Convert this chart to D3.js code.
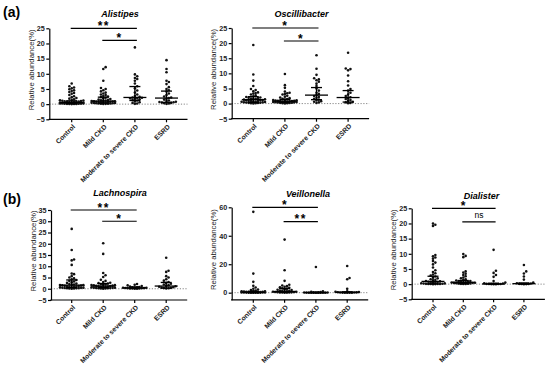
<!DOCTYPE html>
<html>
<head>
<meta charset="utf-8">
<script src="https://cdn.jsdelivr.net/npm/d3@7"></script>
<style>
  body { margin: 0; background: #fff; }
  svg { display: block; font-family: Arial, "Liberation Sans", sans-serif; }
  .axis path, .axis line { stroke: #000; stroke-width: 1.2; }
  .axis text { font-size: 7.2px; font-weight: bold; fill: #222; }
  .axis text.xlab { font-size: 6.8px; }
</style>
</head>
<body>
<div id="chart"></div>
<script>
// group names (x categories)
const groups = ["Control", "Mild CKD", "Moderate to severe CKD", "ESRD"];

// relative abundance (%) per group
const alistipes = [
  [6.8, 5.9, 5.5, 5.2, 4.9, 4.6, 4.3, 4.0, 3.7, 3.4, 3.0, 2.6, 2.3, 2.0, 1.8, 1.6, 1.4, 1.3, 1.2, 1.1, 1.0, 0.9, 0.85, 0.8, 0.75, 0.7, 0.65, 0.6, 0.55, 0.5, 0.48, 0.45, 0.42, 0.4, 0.37, 0.35, 0.32, 0.3, 0.28, 0.25, 0.22, 0.2, 0.18, 0.15, 0.12, 0.1, 0.08, 0.05, 0.03, 0.01],
  [12.2, 11.6, 7.7, 5.3, 5.0, 4.6, 4.2, 3.8, 3.5, 3.2, 3.0, 2.7, 2.5, 2.3, 2.1, 1.9, 1.7, 1.5, 1.4, 1.3, 1.2, 1.1, 1.0, 0.95, 0.9, 0.85, 0.8, 0.75, 0.7, 0.65, 0.6, 0.55, 0.5, 0.45, 0.4, 0.35, 0.3, 0.28, 0.25, 0.2, 0.15, 0.12, 0.1, 0.05],
  [18.7, 9.8, 9.2, 8.6, 8.3, 7.7, 6.8, 5.9, 5.2, 4.5, 3.8, 3.2, 2.7, 2.4, 2.2, 2.1, 2.0, 1.9, 1.8, 1.6, 1.4, 1.2, 0.9, 0.6, 0.4, 0.2, 0.1],
  [14.5, 11.6, 10.5, 7.7, 7.3, 6.6, 5.6, 5.0, 4.6, 4.2, 3.5, 3.0, 2.5, 2.2, 2.0, 1.8, 1.5, 1.2, 1.0, 0.8, 0.7, 0.6, 0.5, 0.4, 0.3, 0.2, 0.1]
];
const oscillibacter = [
  [19.4, 9.6, 7.6, 5.8, 4.8, 4.5, 4.1, 3.7, 3.5, 3.3, 3.0, 2.7, 2.4, 2.2, 2.0, 1.9, 1.8, 1.7, 1.6, 1.5, 1.4, 1.3, 1.2, 1.1, 1.0, 0.9, 0.85, 0.8, 0.7, 0.65, 0.6, 0.5, 0.45, 0.4, 0.35, 0.3, 0.25, 0.2, 0.15, 0.1, 0.05],
  [9.8, 6.1, 5.2, 4.0, 3.6, 3.4, 3.2, 3.0, 2.6, 2.3, 2.0, 1.8, 1.6, 1.5, 1.3, 1.2, 1.1, 1.0, 0.95, 0.9, 0.85, 0.8, 0.75, 0.7, 0.65, 0.6, 0.55, 0.5, 0.45, 0.4, 0.35, 0.3, 0.25, 0.2, 0.15, 0.1, 0.05],
  [16.0, 11.5, 9.5, 8.4, 8.0, 7.7, 7.2, 6.6, 5.8, 5.0, 4.3, 3.6, 3.2, 2.8, 2.5, 2.2, 1.9, 1.6, 1.3, 1.0, 0.8, 0.6, 0.4, 0.2],
  [16.8, 11.6, 11.4, 11.0, 9.3, 7.4, 6.0, 4.8, 4.3, 3.6, 3.0, 2.5, 2.1, 1.8, 1.5, 1.2, 0.9, 0.6, 0.4, 0.2, 0.1]
];
const lachnospira = [
  [26.6, 17.2, 13.0, 12.6, 10.6, 6.8, 6.5, 5.6, 5.0, 4.6, 4.2, 3.9, 3.5, 3.2, 2.9, 2.6, 2.3, 2.1, 1.9, 1.8, 1.7, 1.6, 1.5, 1.4, 1.3, 1.2, 1.1, 1.0, 0.9, 0.8, 0.7, 0.6, 0.5, 0.45, 0.4, 0.35, 0.3, 0.25, 0.2, 0.15, 0.1, 0.05],
  [20.2, 15.5, 7.0, 6.0, 5.2, 4.0, 3.5, 3.0, 2.7, 2.5, 2.3, 2.1, 1.9, 1.8, 1.7, 1.6, 1.5, 1.4, 1.3, 1.2, 1.1, 1.0, 0.9, 0.8, 0.7, 0.6, 0.5, 0.45, 0.4, 0.35, 0.3, 0.25, 0.2, 0.15, 0.1, 0.05],
  [2.1, 1.8, 1.5, 1.2, 1.0, 0.8, 0.7, 0.6, 0.5, 0.45, 0.4, 0.35, 0.3, 0.25, 0.2, 0.15, 0.1, 0.08, 0.05, 0.02],
  [13.8, 8.0, 7.5, 5.6, 5.0, 4.2, 3.6, 3.0, 2.6, 2.2, 1.9, 1.6, 1.3, 1.1, 0.9, 0.7, 0.5, 0.4, 0.3, 0.2, 0.1]
];
const veillonella = [
  [56.8, 13.4, 7.6, 4.8, 3.6, 2.8, 2.2, 1.8, 1.5, 1.2, 1.0, 0.9, 0.8, 0.7, 0.6, 0.5, 0.45, 0.4, 0.35, 0.3, 0.25, 0.2, 0.15, 0.1, 0.08, 0.05, 0.03, 0.02, 0.01, 0.01, 0.0, 0.0],
  [37.3, 15.8, 8.3, 5.6, 5.0, 4.6, 4.2, 3.8, 3.4, 3.0, 2.7, 2.4, 2.1, 1.8, 1.5, 1.3, 1.1, 0.9, 0.8, 0.7, 0.6, 0.5, 0.4, 0.3, 0.25, 0.2, 0.15, 0.1, 0.05, 0.02],
  [18.1, 1.0, 0.6, 0.4, 0.3, 0.2, 0.15, 0.1, 0.08, 0.05, 0.03, 0.02, 0.01, 0.0, 0.0, 0.0, 0.0, 0.0],
  [18.7, 10.3, 9.4, 2.7, 1.0, 0.6, 0.4, 0.3, 0.2, 0.15, 0.1, 0.05, 0.03, 0.02, 0.01, 0.0]
];
const dialister = [
  [20.0, 19.6, 19.2, 9.6, 9.2, 8.8, 8.4, 7.6, 7.1, 6.5, 5.5, 4.6, 4.0, 3.6, 3.2, 2.8, 2.5, 2.2, 1.9, 1.6, 1.4, 1.2, 1.0, 0.9, 0.8, 0.7, 0.6, 0.5, 0.4, 0.3, 0.25, 0.2, 0.15, 0.1, 0.08, 0.05, 0.03, 0.02, 0.01, 0.0],
  [9.9, 9.3, 8.9, 4.2, 3.8, 3.4, 3.0, 2.6, 2.2, 1.9, 1.6, 1.4, 1.2, 1.0, 0.9, 0.8, 0.7, 0.6, 0.55, 0.5, 0.45, 0.4, 0.35, 0.3, 0.25, 0.2, 0.15, 0.1, 0.05, 0.02],
  [11.3, 4.4, 3.7, 3.0, 2.4, 1.0, 0.5, 0.3, 0.2, 0.1, 0.05, 0.03, 0.02, 0.01, 0.0, 0.0],
  [6.3, 4.2, 3.5, 2.5, 1.5, 0.5, 0.3, 0.2, 0.1, 0.05, 0.02, 0.01, 0.0]
];

// median and interquartile range per group [q1, median, q3], as drawn
const alistipesIQR = [[0.2, 0.5, 1.1], [0.35, 1.0, 2.3], [1.2, 2.2, 5.8], [0.6, 2.0, 4.3]];
const oscillibacterIQR = [[0.4, 1.3, 2.3], [0.35, 0.8, 1.4], [1.3, 2.8, 5.3], [0.5, 2.0, 4.3]];
const lachnospiraIQR = [[0.5, 1.6, 3.9], [0.5, 1.2, 2.3], [0.15, 0.4, 0.8], [0.3, 1.2, 2.8]];
const veillonellaIQR = [[0.05, 0.3, 1.0], [0.2, 0.8, 3.0], [0.0, 0.05, 0.3], [0.05, 0.3, 0.6]];
const dialisterIQR = [[0.1, 0.9, 2.6], [0.15, 0.6, 1.2], [0.0, 0.05, 0.3], [0.02, 0.15, 0.4]];

// y ticks
const ticks25 = [-5, 0, 5, 10, 15, 20, 25];
const ticks35 = [-5, 0, 5, 10, 15, 20, 25, 30, 35];
const ticks60 = [0, 20, 40, 60];

// significance brackets: [from group, to group, height, label]
const alistipesSig = [[0, 2, 25, "**"], [1, 2, 21, "*"]];
const oscillibacterSig = [[0, 2, 25, "*"], [1, 2, 20.7, "*"]];
const lachnospiraSig = [[0, 2, 35, "**"], [1, 2, 30, "*"]];
const veillonellaSig = [[0, 2, 60, "*"], [1, 2, 50, "**"]];
const dialisterSig = [[0, 2, 25, "*"], [1, 2, 20.5, "ns"]];

const panels = [
  {title: "Alistipes", values: alistipes, iqr: alistipesIQR, sig: alistipesSig, domain: [-5, 25], ticks: ticks25,
   left: 49.3, top: 28.3, bottom: 119.3, first: 71.7, step: 31.6, titleX: 120, titleY: 16.5},
  {title: "Oscillibacter", values: oscillibacter, iqr: oscillibacterIQR, sig: oscillibacterSig, domain: [-5, 25], ticks: ticks25,
   left: 231.7, top: 28.0, bottom: 118.7, first: 253.3, step: 31.6, titleX: 301.5, titleY: 16.5},
  {title: "Lachnospira", values: lachnospira, iqr: lachnospiraIQR, sig: lachnospiraSig, domain: [-5, 35], ticks: ticks35,
   left: 51, top: 210, bottom: 300, first: 71.7, step: 31.5, titleX: 120, titleY: 196},
  {title: "Veillonella", values: veillonella, iqr: veillonellaIQR, sig: veillonellaSig, domain: [-5, 60], ticks: ticks60,
   left: 231.7, top: 207.3, bottom: 299.8, first: 253.3, step: 31.3, titleX: 308, titleY: 197},
  {title: "Dialister", values: dialister, iqr: dialisterIQR, sig: dialisterSig, domain: [-5, 25], ticks: ticks25,
   left: 411.7, top: 208.3, bottom: 299.3, first: 433, step: 30.3, titleX: 481.5, titleY: 199.3}
];

const W = 550, H = 369;
const svg = d3.select("#chart").append("svg")
  .attr("width", W)
  .attr("height", H);

svg.append("rect").attr("width", W).attr("height", H).attr("fill", "#fff");

svg.append("text").attr("x", 3).attr("y", 16.5)
  .style("font-size", "14px").style("font-weight", "bold").text("(a)");
svg.append("text").attr("x", 3).attr("y", 203.5)
  .style("font-size", "14px").style("font-weight", "bold").text("(b)");

// simple deterministic beeswarm offset for one group
function swarm(vals, y, r) {
  const pts = vals.map(v => ({v: v, py: y(v)})).sort((a, b) => b.py - a.py);
  const placed = [];
  const minD = r * 1.75;
  const stepX = r * 1.8;
  pts.forEach(p => {
    let best = 0, bestScore = -1;
    for (let k = 0; k <= 16; k++) {
      const dx = k === 0 ? 0 : Math.ceil(k / 2) * stepX * (k % 2 ? 1 : -1);
      if (Math.abs(dx) > 13) break;
      let md = Infinity;
      placed.forEach(q => {
        const d = Math.hypot(q.dx - dx, q.py - p.py);
        if (d < md) md = d;
      });
      if (md >= minD) { best = dx; bestScore = Infinity; break; }
      if (md > bestScore) { bestScore = md; best = dx; }
    }
    p.dx = best;
    placed.push(p);
  });
  return pts;
}

panels.forEach(p => {
  const y = d3.scaleLinear().domain(p.domain).range([p.bottom, p.top]);
  const x = d3.scalePoint().domain(groups)
    .range([p.first, p.first + 3 * p.step]);
  const right = p.first + 3 * p.step + 21;
  const g = svg.append("g");

  // zero reference line
  g.append("line")
    .attr("x1", p.left).attr("x2", right)
    .attr("y1", y(0)).attr("y2", y(0))
    .attr("stroke", "#777").attr("stroke-width", 0.9)
    .attr("stroke-dasharray", "1.2,1.6");

  // y axis
  g.append("g").attr("class", "axis")
    .attr("transform", "translate(" + p.left + ",0)")
    .call(d3.axisLeft(y).tickValues(p.ticks).tickSize(3).tickSizeOuter(0).tickPadding(1.5));

  // x axis
  const xa = g.append("g").attr("class", "axis")
    .attr("transform", "translate(0," + p.bottom + ")");
  xa.append("line").attr("x1", p.left - 0.6).attr("x2", right).attr("y1", 0).attr("y2", 0)
    .attr("stroke", "#000").attr("stroke-width", 1.2);
  groups.forEach(c => {
    xa.append("line").attr("x1", x(c)).attr("x2", x(c)).attr("y1", 0).attr("y2", 3)
      .attr("stroke", "#000").attr("stroke-width", 1.2);
    xa.append("text")
      .attr("class", "xlab")
      .attr("transform", "translate(" + (x(c) + 1.5) + ",5.5) rotate(-45)")
      .attr("text-anchor", "end")
      .attr("dy", "0.5em")
      .text(c);
  });

  // y label
  g.append("text")
    .attr("transform", "translate(" + (p.left - 18) + "," + ((p.top + p.bottom) / 2 - 4) + ") rotate(-90)")
    .attr("text-anchor", "middle")
    .attr("dominant-baseline", "central")
    .style("font-size", "7.8px")
    .style("fill", "#222")
    .text("Relative abundance(%)");

  // title
  g.append("text")
    .attr("x", p.titleX).attr("y", p.titleY)
    .attr("text-anchor", "middle")
    .style("font-size", "9px").style("font-weight", "bold").style("font-style", "italic")
    .text(p.title);

  // points
  p.values.forEach((vals, i) => {
    const cx = x(groups[i]);
    const pts = swarm(vals, y, 1.3);
    g.selectAll(null).data(pts).enter().append("circle")
      .attr("cx", d => cx + d.dx)
      .attr("cy", d => d.py)
      .attr("r", 1.3)
      .attr("fill", "#111");
  });

  // median + IQR
  p.iqr.forEach((s, i) => {
    const cx = x(groups[i]);
    const e = g.append("g").attr("stroke", "#000").attr("stroke-width", 1.3);
    e.append("line").attr("x1", cx).attr("x2", cx).attr("y1", y(s[0])).attr("y2", y(s[2]));
    e.append("line").attr("x1", cx - 11.5).attr("x2", cx + 11.5).attr("y1", y(s[1])).attr("y2", y(s[1]));
    e.append("line").attr("x1", cx - 5.5).attr("x2", cx + 5.5).attr("y1", y(s[0])).attr("y2", y(s[0]));
    e.append("line").attr("x1", cx - 5.5).attr("x2", cx + 5.5).attr("y1", y(s[2])).attr("y2", y(s[2]));
  });

  // significance
  p.sig.forEach(s => {
    const x1 = x(groups[s[0]]) - 1, x2 = x(groups[s[1]]) + 2;
    const ly = y(s[2]);
    g.append("line").attr("x1", x1).attr("x2", x2).attr("y1", ly).attr("y2", ly)
      .attr("stroke", "#000").attr("stroke-width", 1.2);
    const isNs = s[3] === "ns";
    g.append("text")
      .attr("x", (x1 + x2) / 2).attr("y", isNs ? ly - 4 : ly + 1.8)
      .attr("text-anchor", "middle")
      .style("font-size", isNs ? "8.5px" : "12px")
      .style("font-weight", isNs ? "normal" : "bold")
      .style("letter-spacing", isNs ? "0px" : "1.5px")
      .text(s[3]);
  });
});
</script>
</body>
</html>
